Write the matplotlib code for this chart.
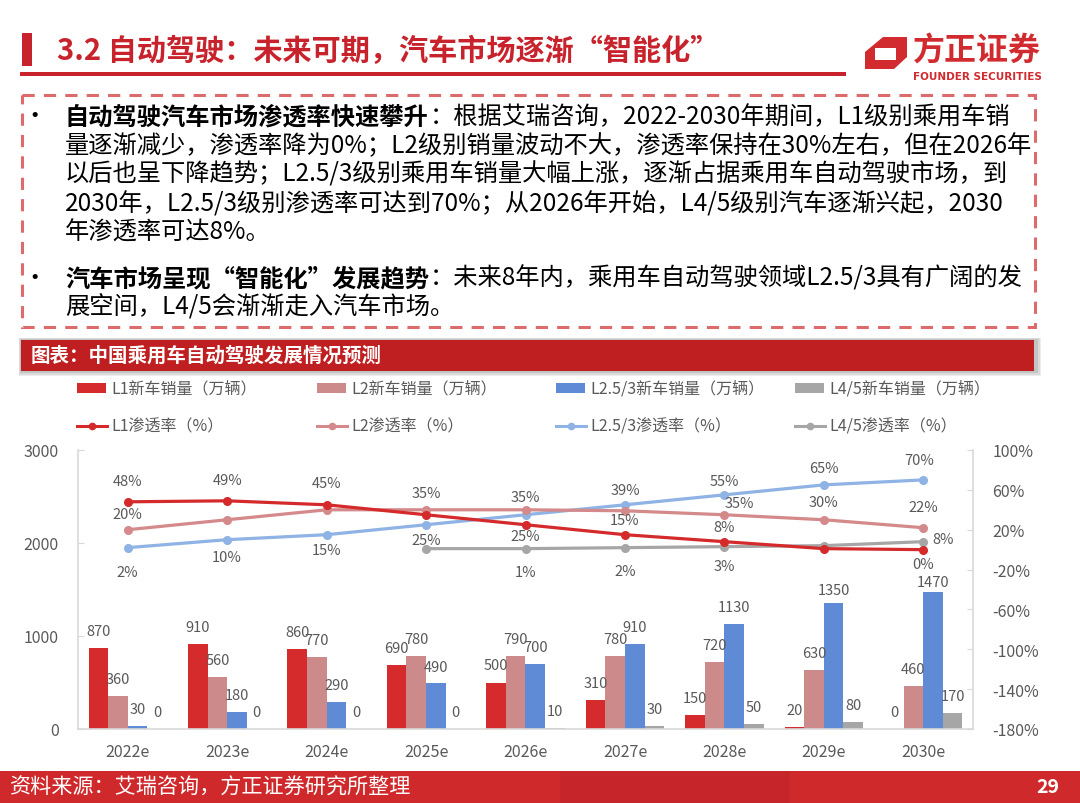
import matplotlib
matplotlib.use('Agg')
import matplotlib.pyplot as plt
import numpy as np
from matplotlib.patches import Rectangle, Polygon
from matplotlib.lines import Line2D

plt.rcParams['font.family'] = ['Noto Sans CJK SC', 'DejaVu Sans']
plt.rcParams['axes.unicode_minus'] = False

# ---------------- data ----------------
years = ['2022e', '2023e', '2024e', '2025e', '2026e', '2027e', '2028e', '2029e', '2030e']
l1_sales = [870, 910, 860, 690, 500, 310, 150, 20, 0]
l2_sales = [360, 560, 770, 780, 790, 780, 720, 630, 460]
l25_sales = [30, 180, 290, 490, 700, 910, 1130, 1350, 1470]
l45_sales = [0, 0, 0, 0, 10, 30, 50, 80, 170]

l1_rate = [48, 49, 45, 35, 25, 15, 8, 1, 0]
l2_rate = [20, 30, 40, 40, 40, 39, 35, 30, 22]
l25_rate = [2, 10, 15, 25, 35, 45, 55, 65, 70]
l45_rate = [np.nan, np.nan, np.nan, 1, 1, 2, 3, 4, 8]

bar_names = ['L1新车销量（万辆）', 'L2新车销量（万辆）', 'L2.5/3新车销量（万辆）', 'L4/5新车销量（万辆）']
line_names = ['L1渗透率（%）', 'L2渗透率（%）', 'L2.5/3渗透率（%）', 'L4/5渗透率（%）']

left_ticks = [0, 1000, 2000, 3000]
right_ticks = [-180, -140, -100, -60, -20, 20, 60, 100]

title = '3.2 自动驾驶：未来可期，汽车市场逐渐“智能化”'
chart_title = '图表：中国乘用车自动驾驶发展情况预测'
source = '资料来源：艾瑞咨询，方正证券研究所整理'
page_no = '29'

bullet1 = [
    [('自动驾驶汽车市场渗透率快速攀升', 'bold'), ('：根据艾瑞咨询，2022-2030年期间，L1级别乘用车销', 'normal')],
    [('量逐渐减少，渗透率降为0%；L2级别销量波动不大，渗透率保持在30%左右，但在2026年', 'normal')],
    [('以后也呈下降趋势；L2.5/3级别乘用车销量大幅上涨，逐渐占据乘用车自动驾驶市场，到', 'normal')],
    [('2030年，L2.5/3级别渗透率可达到70%；从2026年开始，L4/5级别汽车逐渐兴起，2030', 'normal')],
    [('年渗透率可达8%。', 'normal')],
]
bullet2 = [
    [('汽车市场呈现“智能化”发展趋势', 'bold'), ('：未来8年内，乘用车自动驾驶领域L2.5/3具有广阔的发', 'normal')],
    [('展空间，L4/5会渐渐走入汽车市场。', 'normal')],
]

# label placement (pixel offsets from each point; None = no label)
l1_lab = [(0, 21), (0, 21), (0, 22), (0, 22), (0, -11), (0, 15), (0, 15), None, (0, -14)]
l2_lab = [(0, 16), None, None, None, None, (0, 21), (15, 12), (0, 18), (0, 21)]
l25_lab = [(0, -24), (0, -17), (0, -15), (0, -15), (0, 18), None, (0, 14), (0, 17), (-4, 20)]
l45_lab = [None, None, None, None, (0, -23), (0, -23), (0, -19), None, (20, 3)]
# vertical pixel offsets of the bar value labels
bar_lab_dy = [
    [17] * 9,
    [17] * 9,
    [17, 17, 17, 16, 17, 17, 17, 13, 10],
    [17] * 9,
]

# ---------------- styles ----------------
bar_colors = ['#D62B2D', '#CD8A8B', '#5F8AD6', '#A6A6A6']
line_colors = ['#D42A2C', '#D4898B', '#8FB3E4', '#A6A6A6']
txt_gray = '#595959'
red_title = '#C8232C'

W, H = 1080, 804
fig = plt.figure(figsize=(W / 100, H / 100), dpi=100)
fig.patch.set_facecolor('white')

# overlay axes in pixel coordinates
ov = fig.add_axes([0, 0, 1, 1], zorder=0)
ov.set_xlim(0, W)
ov.set_ylim(H, 0)
ov.axis('off')
ov.patch.set_visible(False)

# header
ov.add_patch(Rectangle((22, 34), 10, 33, color=red_title, lw=0))
ov.text(57, 51, title, fontsize=21, fontweight='bold', color=red_title, va='center', ha='left')
ov.add_patch(Rectangle((20, 73), 826, 4, color='#C8232C', lw=0))

# logo
logo_red = '#D12A2F'
ov.add_patch(Polygon([(865, 70), (865, 53), (883, 38), (907, 38), (907, 58), (894, 70)],
                     closed=True, color=logo_red, lw=0))
ov.add_patch(Rectangle((875, 49), 21, 12, color='white', lw=0))
ov.text(977, 52, '方正证券', fontsize=23, fontweight='bold', color=logo_red, ha='center', va='center')
ov.text(977, 77, 'FOUNDER SECURITIES', fontsize=7.5, fontweight='bold', color=logo_red,
        ha='center', va='center', family=['DejaVu Sans'])

# dashed box
dash_c = '#DD6B6B'
box = Rectangle((22, 96), 1013, 232, fill=False, ec=dash_c, lw=2.2, ls=(0, (4, 3)))
ov.add_patch(box)

renderer = fig.canvas.get_renderer()
fs_body = 17.5


def draw_line(segs, x, y):
    cx = x
    for txt, wt in segs:
        t = ov.text(cx, y, txt, fontsize=fs_body, fontweight=wt, color='black', ha='left', va='center')
        bb = t.get_window_extent(renderer)
        cx = cx + bb.width + 1


y0 = 117
for i, segs in enumerate(bullet1):
    draw_line(segs, 65, y0 + i * 29)
ov.text(35, y0, '•', fontsize=fs_body, color='black', ha='center', va='center')
y1 = 279
for i, segs in enumerate(bullet2):
    draw_line(segs, 65, y1 + i * 29)
ov.text(35, y1, '•', fontsize=fs_body, color='black', ha='center', va='center')

# chart title band with shadow
for k, a in enumerate([0.10, 0.12, 0.16]):
    d = 5 - k * 1.5
    ov.add_patch(Rectangle((21 - d / 2, 341 - d / 2), 1015 + d * 1.5, 31 + d * 1.5, color='#555555', alpha=a, lw=0))
ov.add_patch(Rectangle((21, 341), 1013, 31, color='#BF1F20', lw=0))
ov.text(31, 356, chart_title, fontsize=14, fontweight='bold', color='white', ha='left', va='center')

# legend
col_x = [77, 317, 556, 795]
for i in range(4):
    ov.add_patch(Rectangle((col_x[i], 384), 29, 10, color=bar_colors[i], lw=0))
    ov.text(col_x[i] + 34, 389, bar_names[i], fontsize=11.5, color=txt_gray, ha='left', va='center')
    ov.add_line(Line2D([col_x[i], col_x[i] + 30], [427, 427], color=line_colors[i], lw=2.2))
    ov.add_line(Line2D([col_x[i] + 15], [427], color=line_colors[i], marker='o', ms=4.5))
    ov.text(col_x[i] + 34, 427, line_names[i], fontsize=11.5, color=txt_gray, ha='left', va='center')

# footer
ov.add_patch(Rectangle((0, 772), W, 32, color='#D0292C', lw=0))
ov.add_patch(Rectangle((560, 772), 230, 32, color='#C02529', lw=0, alpha=0.6))
ov.text(10, 788, source, fontsize=15.2, color='white', ha='left', va='center')
ov.text(1048, 788, page_no, fontsize=14, fontweight='bold', color='white', ha='center', va='center')

# ---------------- chart ----------------
ax = fig.add_axes([78 / W, 1 - 730 / H, (973 - 78) / W, (730 - 451) / H], zorder=1)
ax.patch.set_visible(False)
x = np.arange(len(years))
bw = 0.197
series_sales = [l1_sales, l2_sales, l25_sales, l45_sales]
for k, vals in enumerate(series_sales):
    xs = x + (k - 1.5) * bw
    ax.bar(xs, vals, width=bw, color=bar_colors[k], lw=0, zorder=2)
    for j, (xi, v) in enumerate(zip(xs, vals)):
        ax.annotate(str(v), (xi, v), xytext=(0, bar_lab_dy[k][j]), textcoords='offset pixels',
                    ha='center', va='center', fontsize=10.5, color=txt_gray)

ax.set_xlim(-0.5, len(years) - 0.5)
ax.set_ylim(0, 3000)
ax.set_yticks(left_ticks)
ax.set_yticklabels([str(v) for v in left_ticks])
ax.set_xticks(x)
ax.set_xticklabels(years)
ax.tick_params(axis='x', length=0, pad=10, labelsize=11.5, labelcolor=txt_gray)
ax.tick_params(axis='y', direction='in', length=4, color='#D9D9D9', pad=14, labelsize=11.5, labelcolor=txt_gray)
for s in ['top', 'right']:
    ax.spines[s].set_visible(False)
for s in ['left', 'bottom']:
    ax.spines[s].set_color('#D9D9D9')
    ax.spines[s].set_linewidth(1.2)

ax2 = ax.twinx()
ax2.set_zorder(2)
ax2.patch.set_visible(False)
ax2.set_ylim(-180, 100)
ax2.set_yticks(right_ticks)
ax2.set_yticklabels([f'{v}%' for v in right_ticks])
ax2.tick_params(axis='y', direction='in', length=4, color='#D9D9D9', pad=14, labelsize=11.5, labelcolor=txt_gray)
for s in ['top', 'left', 'bottom']:
    ax2.spines[s].set_visible(False)
ax2.spines['right'].set_color('#D9D9D9')
ax2.spines['right'].set_linewidth(1.2)

series_rate = [l1_rate, l2_rate, l25_rate, l45_rate]
labs = [l1_lab, l2_lab, l25_lab, l45_lab]
for k in [3, 2, 1, 0]:
    vals = np.array(series_rate[k], dtype=float)
    ax2.plot(x, vals, color=line_colors[k], lw=2.3, marker='o', ms=5.5, zorder=3 + (3 - k))
for k in range(4):
    vals = series_rate[k]
    for i, v in enumerate(vals):
        off = labs[k][i]
        if off is None or v is None or (isinstance(v, float) and np.isnan(v)):
            continue
        ax2.annotate(f'{int(v)}%', (x[i], v), xytext=off, textcoords='offset pixels',
                     ha='center', va='center', fontsize=10.5, color=txt_gray, zorder=10)

fig.savefig('out.png', dpi=100)
